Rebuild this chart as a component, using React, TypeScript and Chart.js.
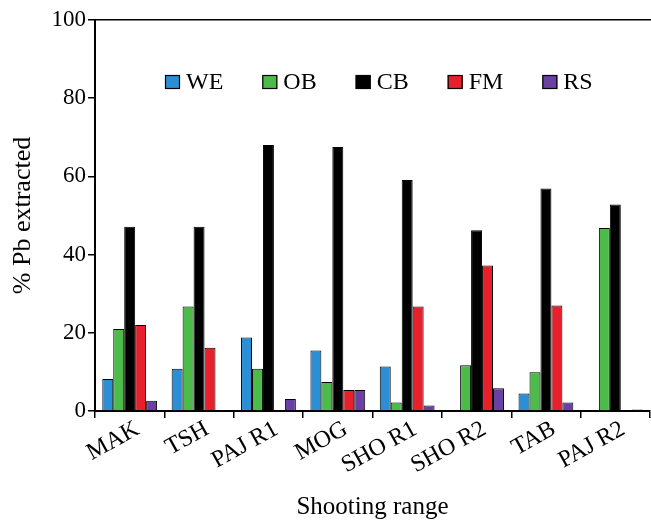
import React, { useEffect, useRef } from "react";
import { Chart, registerables } from "chart.js";

Chart.register(...registerables);

const categories = ["MAK", "TSH", "PAJ R1", "MOG", "SHO R1", "SHO R2", "TAB", "PAJ R2"];
const seriesNames = ["WE", "OB", "CB", "FM", "RS"];
const weValues = [8.2, 10.8, 18.8, 15.5, 11.4, null, 4.5, null];
const obValues = [21.0, 26.7, 10.8, 7.4, 2.2, 11.7, 9.9, 46.8];
const cbValues = [47.1, 47.1, 68.0, 67.5, 59.1, 46.2, 56.9, 52.8];
const fmValues = [22.0, 16.2, null, 5.4, 26.7, 37.2, 27.0, null];
const rsValues = [2.6, null, 3.1, 5.4, 1.4, 5.8, 2.2, 0.4];
const yTicks = [0, 20, 40, 60, 80, 100];

const colors = ["#2a8fd4", "#4dbb4a", "#000000", "#e8202c", "#6a40a2"];
const FONT = '"Liberation Serif", "Times New Roman", serif';

const insideLegend = {
  id: "insideLegend",
  afterDraw(chart: any) {
    const { ctx, chartArea } = chart;
    ctx.save();
    ctx.font = `24px ${FONT}`;
    ctx.textBaseline = "middle";
    ctx.textAlign = "left";
    let x = chartArea.left + 70;
    const y = chartArea.top + 62;
    chart.data.datasets.forEach((ds: any) => {
      ctx.fillStyle = ds.backgroundColor;
      ctx.fillRect(x, y - 7, 15, 14);
      ctx.strokeStyle = "#000";
      ctx.lineWidth = 1.2;
      ctx.strokeRect(x + 0.5, y - 6.5, 14, 13);
      ctx.fillStyle = "#000";
      ctx.fillText(ds.label, x + 21, y + 1);
      x += 21 + ctx.measureText(ds.label).width + 39;
    });
    ctx.restore();
  },
};

export default function App() {
  const ref = useRef<HTMLCanvasElement | null>(null);
  useEffect(() => {
    if (!ref.current) return;
    const values = [weValues, obValues, cbValues, fmValues, rsValues];
    const chart = new Chart(ref.current, {
      type: "bar",
      data: {
        labels: categories,
        datasets: seriesNames.map((name, i) => ({
          label: name,
          data: values[i],
          backgroundColor: colors[i],
          borderColor: "#000",
          borderWidth: 1,
          categoryPercentage: 0.79,
          barPercentage: 1,
        })),
      },
      options: {
        responsive: false,
        animation: false,
        devicePixelRatio: 1,
        layout: { padding: { left: 5, top: 20, right: 1, bottom: 0 } },
        plugins: {
          legend: { display: false },
          tooltip: { enabled: false },
        },
        scales: {
          x: {
            type: "category",
            position: "bottom",
            afterFit: (s: any) => {
              s.height = 109;
            },
            grid: {
              display: true,
              drawOnChartArea: false,
              drawTicks: true,
              tickLength: 7,
              color: "#000",
              lineWidth: 1.5,
              offset: true,
            },
            border: { display: true, color: "#000", width: 2 },
            ticks: {
              color: "#000",
              font: { family: FONT, size: 24 },
              minRotation: 29,
              maxRotation: 29,
              padding: -3,
              labelOffset: 8,
              autoSkip: false,
            },
            title: {
              display: true,
              text: "Shooting range",
              color: "#000",
              font: { family: FONT, size: 25 },
              padding: { top: 0, bottom: -2 },
            },
          },
          xTop: {
            type: "category",
            position: "top",
            labels: categories,
            grid: { display: false, drawTicks: false },
            ticks: { display: false },
            border: { display: true, color: "#000", width: 1.5 },
          },
          y: {
            min: 0,
            max: 100,
            afterFit: (s: any) => {
              s.width = 90;
            },
            afterBuildTicks: (s: any) => {
              s.ticks = yTicks.map((v) => ({ value: v }));
            },
            grid: {
              display: true,
              drawOnChartArea: false,
              drawTicks: true,
              tickLength: 7,
              color: "#000",
              lineWidth: 1.5,
            },
            border: { display: true, color: "#000", width: 2 },
            ticks: {
              color: "#000",
              font: { family: FONT, size: 23 },
              padding: 2,
            },
            title: {
              display: true,
              text: "% Pb extracted",
              color: "#000",
              font: { family: FONT, size: 26 },
              padding: { top: 3, bottom: 0 },
            },
          },
        },
      },
      plugins: [insideLegend],
    });
    return () => chart.destroy();
  }, []);
  return (
    <div style={{ position: "fixed", left: 0, top: 0, width: 651, height: 520, background: "#fff" }}>
      <canvas ref={ref} width={651} height={520} />
    </div>
  );
}
